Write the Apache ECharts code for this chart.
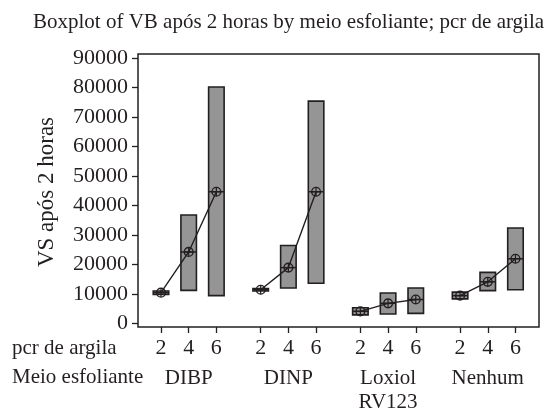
<!DOCTYPE html>
<html><head><meta charset="utf-8">
<script src="https://cdn.jsdelivr.net/npm/echarts@6/dist/echarts.min.js"></script>
<style>html,body{margin:0;padding:0;background:#fff}#c{width:551px;height:412px}</style>
</head><body><div id="c"></div>
<script>
// ---- data ----
const groups = ['DIBP', 'DINP', 'Loxiol\nRV123', 'Nenhum'];
const levels = ['2', '4', '6'];
const boxLow  = [[9900, 11300, 9500], [11100, 12100, 13700], [3000, 3300, 3500], [8400, 11200, 11500]];
const boxHigh = [[11100, 36800, 80200], [11900, 26500, 75400], [5400, 10400, 12100], [10700, 17400, 32400]];
const medians = [[10500, 24300, 44700], [11500, 19000, 44700], [4200, 6900, 8200], [9500, 14200, 22000]];
const means   = [[10500, 24300, 44700], [11500, 19000, 44700], [4200, 6900, 8200], [9500, 14200, 22000]];
const yTicks = [0, 10000, 20000, 30000, 40000, 50000, 60000, 70000, 80000, 90000];

// ---- layout ----
const GROUP_STEP = 3.6;
const FONT = '"Liberation Serif", "DejaVu Serif", serif';
const INK = '#231f20';
const pos = (g, i) => g * GROUP_STEP + i;

const positions = [], posLabels = [], boxData = [], meanData = [];
groups.forEach((gname, g) => {
  levels.forEach((lv, i) => {
    const x = pos(g, i);
    positions.push(x); posLabels.push(lv);
    boxData.push([x, boxLow[g][i], boxHigh[g][i], medians[g][i]]);
    meanData.push([x, means[g][i]]);
  });
});
const groupCenters = groups.map((_, g) => pos(g, 1));
const findIdx = (arr, v) => arr.findIndex(p => Math.abs(p - v) < 1e-6);

const lineSeries = groups.map((_, g) => ({
  type: 'line', z: 3, silent: true, symbol: 'none',
  data: levels.map((_, i) => [pos(g, i), means[g][i]]),
  lineStyle: { color: INK, width: 1.4 }
}));

const chart = echarts.init(document.getElementById('c'), null, { renderer: 'canvas' });
chart.setOption({
  animation: false,
  backgroundColor: '#fff',
  grid: { left: 138, top: 54, width: 401, height: 273, show: true, borderColor: INK, borderWidth: 1.5,
    backgroundColor: 'transparent', containLabel: false, outerBoundsMode: 'none' },
  xAxis: [{
    type: 'value', min: -0.83, max: 13.65,
    axisLine: { show: false, onZero: false }, splitLine: { show: false },
    axisTick: { show: true, customValues: positions, length: 6, lineStyle: { color: INK, width: 1.3 } },
    axisLabel: { customValues: positions, formatter: v => posLabels[findIdx(positions, v)], margin: 10,
      fontFamily: FONT, fontSize: 22, color: INK }
  }, {
    type: 'value', min: -0.83, max: 13.65, position: 'bottom',
    axisLine: { show: false, onZero: false }, splitLine: { show: false }, axisTick: { show: false },
    axisLabel: { customValues: groupCenters, formatter: v => groups[findIdx(groupCenters, v)], margin: 39,
      fontFamily: FONT, fontSize: 21, color: INK, lineHeight: 24 }
  }],
  yAxis: {
    type: 'value', min: -1117, max: 91353,
    axisLine: { show: false, onZero: false }, splitLine: { show: false },
    axisTick: { show: true, customValues: yTicks, length: 6, lineStyle: { color: INK, width: 1.3 } },
    axisLabel: { customValues: yTicks, formatter: v => String(v), margin: 10, fontFamily: FONT, fontSize: 22, color: INK }
  },
  graphic: [
    { type: 'text', left: 33, top: 12, style: { text: 'Boxplot of VB após 2 horas by meio esfoliante; pcr de argila', font: '21px ' + FONT, fill: INK } },
    { type: 'text', x: 47, y: 192, rotation: Math.PI / 2, style: { text: 'VS após 2 horas', font: '23px ' + FONT, fill: INK, align: 'center', verticalAlign: 'middle' } },
    { type: 'text', x: 12, y: 348, style: { text: 'pcr de argila', font: '21px ' + FONT, fill: INK, align: 'left', verticalAlign: 'middle' } },
    { type: 'text', x: 12, y: 377, style: { text: 'Meio esfoliante', font: '21px ' + FONT, fill: INK, align: 'left', verticalAlign: 'middle' } }
  ],
  series: [{
    type: 'custom', z: 2, silent: true, data: boxData,
    renderItem: (params, api) => {
      const x = api.value(0);
      const pLo = api.coord([x, api.value(1)]);
      const pHi = api.coord([x, api.value(2)]);
      const pMed = api.coord([x, api.value(3)]);
      const w = api.size([0.56, 0])[0];
      return { type: 'group', children: [
        { type: 'rect', shape: { x: pLo[0] - w / 2, y: pHi[1], width: w, height: Math.max(pLo[1] - pHi[1], 1) },
          style: { fill: '#959595', stroke: INK, lineWidth: 1.6 } },
        { type: 'line', shape: { x1: pLo[0] - w / 2, y1: pMed[1], x2: pLo[0] + w / 2, y2: pMed[1] },
          style: { stroke: INK, lineWidth: 1.5 } }
      ] };
    }
  }].concat(lineSeries, [{
    type: 'custom', z: 4, silent: true, data: meanData,
    renderItem: (params, api) => {
      const p = api.coord([api.value(0), api.value(1)]);
      const r = 4.4;
      return { type: 'group', children: [
        { type: 'circle', shape: { cx: p[0], cy: p[1], r: r }, style: { fill: 'none', stroke: INK, lineWidth: 1.4 } },
        { type: 'line', shape: { x1: p[0], y1: p[1] - r, x2: p[0], y2: p[1] + r }, style: { stroke: INK, lineWidth: 1.2 } },
        { type: 'line', shape: { x1: p[0] - r, y1: p[1], x2: p[0] + r, y2: p[1] }, style: { stroke: INK, lineWidth: 1.2 } }
      ] };
    }
  }])
});
</script></body></html>
